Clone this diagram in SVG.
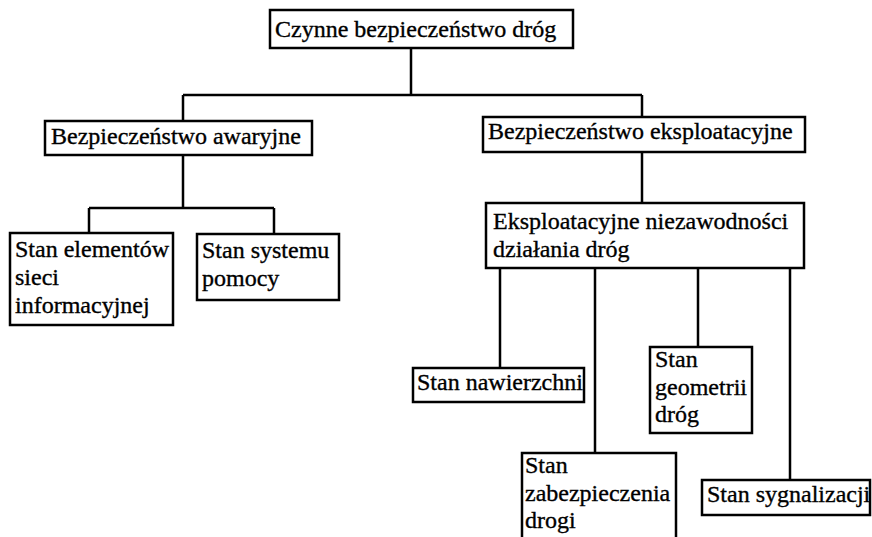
<svg xmlns="http://www.w3.org/2000/svg" width="872" height="537" viewBox="0 0 872 537">
  <style>
    .box { fill: #ffffff; stroke: #000000; stroke-width: 2.5; }
    .link { fill: none; stroke: #000000; stroke-width: 2.5; }
    .lbl { font-family: 'Liberation Serif', 'DejaVu Serif', serif; font-size: 24px; fill: #000000; stroke: #000000; stroke-width: 0.35; }
  </style>
  <rect width="872" height="537" fill="#ffffff"/>

  <!-- connectors -->
  <g id="connectors">
    <path class="link" d="M411,48 V95 M183,95 H642 M183,95 V121 M642,95 V117"/>
    <path class="link" d="M183,155 V208 M89,208 H274 M89,208 V233 M274,208 V234"/>
    <path class="link" d="M642,152 V203"/>
    <path class="link" d="M500,268 V368 M595,268 V453 M698,268 V347 M790,268 V480"/>
  </g>

  <g id="root">
    <rect class="box" x="270" y="10" width="303" height="38"/>
    <text class="lbl" x="275" y="37">Czynne bezpieczeństwo dróg</text>
  </g>

  <g id="awaryjne">
    <rect class="box" x="45" y="121" width="267" height="34"/>
    <text class="lbl" x="51" y="144">Bezpieczeństwo awaryjne</text>
  </g>

  <g id="eksploatacyjne">
    <rect class="box" x="483" y="117" width="322" height="35"/>
    <text class="lbl" x="488" y="139">Bezpieczeństwo eksploatacyjne</text>
  </g>

  <g id="siec-informacyjna">
    <rect class="box" x="10" y="233" width="163" height="92"/>
    <text class="lbl" x="15" y="257">Stan elementów</text>
    <text class="lbl" x="15" y="285">sieci</text>
    <text class="lbl" x="15" y="313">informacyjnej</text>
  </g>

  <g id="system-pomocy">
    <rect class="box" x="197" y="234" width="142" height="66"/>
    <text class="lbl" x="202" y="258">Stan systemu</text>
    <text class="lbl" x="202" y="286">pomocy</text>
  </g>

  <g id="niezawodnosc">
    <rect class="box" x="486" y="203" width="318" height="65"/>
    <text class="lbl" x="493" y="229">Eksploatacyjne niezawodności</text>
    <text class="lbl" x="493" y="257">działania dróg</text>
  </g>

  <g id="nawierzchnia">
    <rect class="box" x="413" y="368" width="171" height="34"/>
    <text class="lbl" x="417" y="390">Stan nawierzchni</text>
  </g>

  <g id="geometria">
    <rect class="box" x="650" y="347" width="102" height="86"/>
    <text class="lbl" x="655" y="367">Stan</text>
    <text class="lbl" x="655" y="395">geometrii</text>
    <text class="lbl" x="655" y="422">dróg</text>
  </g>

  <g id="zabezpieczenie">
    <rect class="box" x="522" y="453" width="154" height="100"/>
    <text class="lbl" x="525" y="473">Stan</text>
    <text class="lbl" x="525" y="501">zabezpieczenia</text>
    <text class="lbl" x="525" y="528">drogi</text>
  </g>

  <g id="sygnalizacja">
    <rect class="box" x="702" y="480" width="168" height="35"/>
    <text class="lbl" x="707" y="502">Stan sygnalizacji</text>
  </g>
</svg>
